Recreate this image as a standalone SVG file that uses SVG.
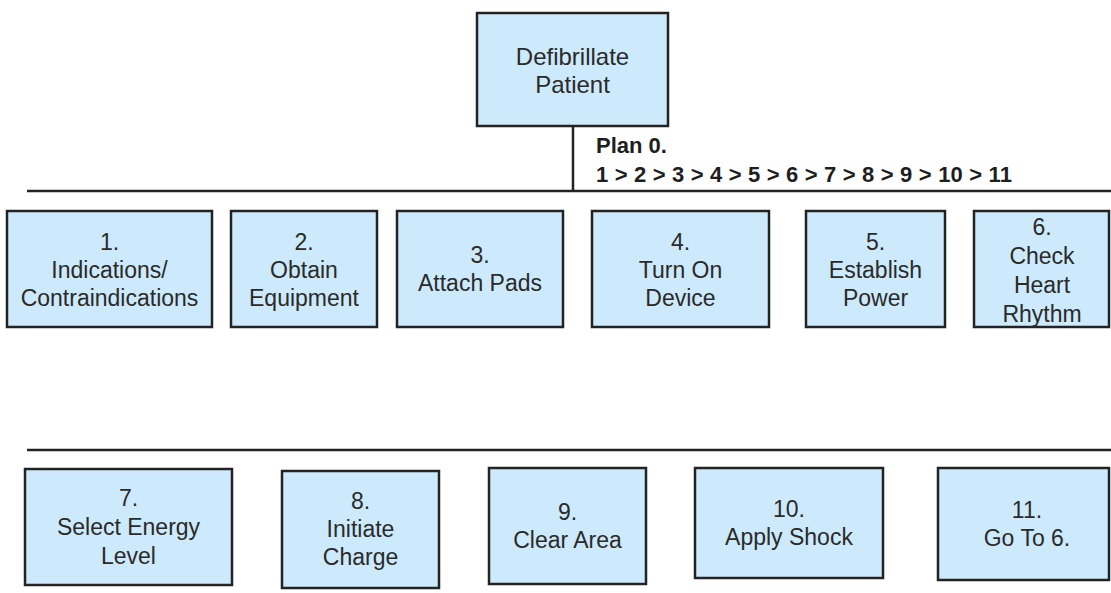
<svg xmlns="http://www.w3.org/2000/svg" width="1111" height="593" viewBox="0 0 1111 593">
  <style>
    .box { fill: #cdeafc; stroke: #232323; stroke-width: 2.5; }
    .lbl { font-family: "Liberation Sans", Arial, sans-serif; font-size: 23px; fill: #2a2a2a; text-anchor: middle; }
    .top { font-size: 24px; }
    .plan { font-family: "Liberation Sans", Arial, sans-serif; font-size: 22px; font-weight: bold; fill: #1e1e1e; }
    .wire { stroke: #232323; stroke-width: 2.5; fill: none; }
  </style>
  <rect width="1111" height="593" fill="#ffffff"/>

  <!-- connectors -->
  <g id="connectors">
    <line class="wire" x1="573" y1="126" x2="573" y2="191"/>
    <line class="wire" x1="27" y1="191" x2="1111" y2="191"/>
    <line class="wire" x1="27" y1="450" x2="1111" y2="450"/>
  </g>

  <!-- plan annotation -->
  <g id="plan">
    <text class="plan" x="596" y="153">Plan 0.</text>
    <text class="plan" x="596" y="182" textLength="416" lengthAdjust="spacing">1 &gt; 2 &gt; 3 &gt; 4 &gt; 5 &gt; 6 &gt; 7 &gt; 8 &gt; 9 &gt; 10 &gt; 11</text>
  </g>

  <!-- root task -->
  <g id="node-0">
    <rect class="box" x="477" y="13" width="191" height="113"/>
    <text class="lbl top" x="572.5" y="65">Defibrillate</text>
    <text class="lbl top" x="572.5" y="93">Patient</text>
  </g>

  <!-- first row of subtasks -->
  <g id="node-1">
    <rect class="box" x="7" y="211" width="205" height="116"/>
    <text class="lbl" x="109.5" y="250">1.</text>
    <text class="lbl" x="109.5" y="278">Indications/</text>
    <text class="lbl" x="109.5" y="306">Contraindications</text>
  </g>
  <g id="node-2">
    <rect class="box" x="231" y="211" width="146" height="116"/>
    <text class="lbl" x="304" y="250">2.</text>
    <text class="lbl" x="304" y="278">Obtain</text>
    <text class="lbl" x="304" y="306">Equipment</text>
  </g>
  <g id="node-3">
    <rect class="box" x="397" y="211" width="166" height="116"/>
    <text class="lbl" x="480" y="263">3.</text>
    <text class="lbl" x="480" y="291">Attach Pads</text>
  </g>
  <g id="node-4">
    <rect class="box" x="592" y="211" width="177" height="116"/>
    <text class="lbl" x="680.5" y="250">4.</text>
    <text class="lbl" x="680.5" y="278">Turn On</text>
    <text class="lbl" x="680.5" y="306">Device</text>
  </g>
  <g id="node-5">
    <rect class="box" x="806" y="211" width="139" height="116"/>
    <text class="lbl" x="875.5" y="250">5.</text>
    <text class="lbl" x="875.5" y="278">Establish</text>
    <text class="lbl" x="875.5" y="306">Power</text>
  </g>
  <g id="node-6">
    <rect class="box" x="974" y="211" width="135" height="116"/>
    <text class="lbl" x="1042" y="235">6.</text>
    <text class="lbl" x="1042" y="264">Check</text>
    <text class="lbl" x="1042" y="293">Heart</text>
    <text class="lbl" x="1042" y="322">Rhythm</text>
  </g>

  <!-- second row of subtasks -->
  <g id="node-7">
    <rect class="box" x="25" y="469" width="207" height="116"/>
    <text class="lbl" x="128.5" y="506">7.</text>
    <text class="lbl" x="128.5" y="535">Select Energy</text>
    <text class="lbl" x="128.5" y="564">Level</text>
  </g>
  <g id="node-8">
    <rect class="box" x="282" y="471" width="157" height="117"/>
    <text class="lbl" x="360.5" y="509">8.</text>
    <text class="lbl" x="360.5" y="537">Initiate</text>
    <text class="lbl" x="360.5" y="565">Charge</text>
  </g>
  <g id="node-9">
    <rect class="box" x="489" y="468" width="157" height="116"/>
    <text class="lbl" x="567.5" y="520">9.</text>
    <text class="lbl" x="567.5" y="548">Clear Area</text>
  </g>
  <g id="node-10">
    <rect class="box" x="695" y="468" width="188" height="110"/>
    <text class="lbl" x="789" y="517">10.</text>
    <text class="lbl" x="789" y="545">Apply Shock</text>
  </g>
  <g id="node-11">
    <rect class="box" x="938" y="468" width="171" height="112"/>
    <text class="lbl" x="1027" y="518">11.</text>
    <text class="lbl" x="1027" y="546">Go To 6.</text>
  </g>
</svg>
